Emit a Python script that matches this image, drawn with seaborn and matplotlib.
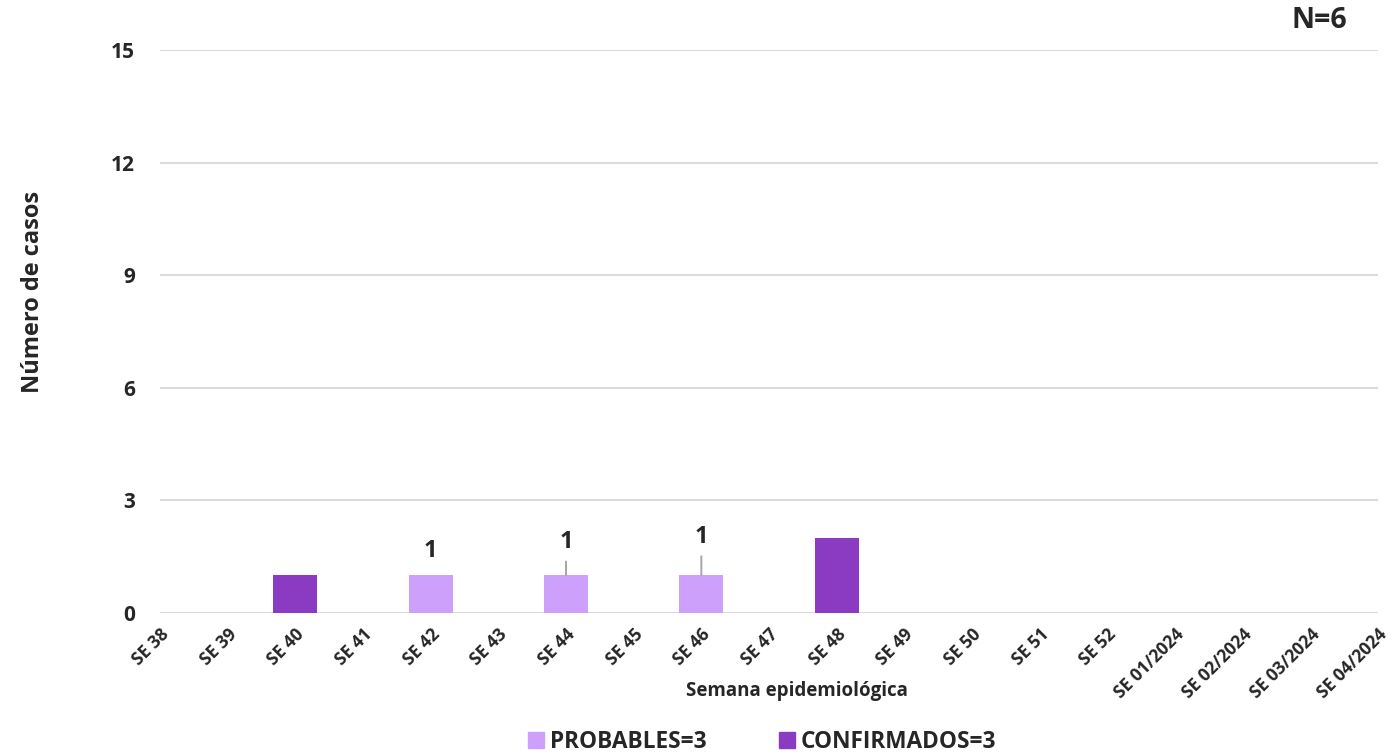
import matplotlib
matplotlib.use("Agg")
import matplotlib.pyplot as plt
import seaborn as sns
import pandas as pd
from matplotlib.patches import Patch

weeks = ["SE 38", "SE 39", "SE 40", "SE 41", "SE 42", "SE 43", "SE 44", "SE 45",
         "SE 46", "SE 47", "SE 48", "SE 49", "SE 50", "SE 51", "SE 52",
         "SE 01/2024", "SE 02/2024", "SE 03/2024", "SE 04/2024"]
probables = [0, 0, 0, 0, 1, 0, 1, 0, 1, 0, 0, 0, 0, 0, 0, 0, 0, 0, 0]
confirmados = [0, 0, 1, 0, 0, 0, 0, 0, 0, 0, 2, 0, 0, 0, 0, 0, 0, 0, 0]
yticks = [0, 3, 6, 9, 12, 15]
legend_labels = ["PROBABLES=3", "CONFIRMADOS=3"]
total_label = "N=6"

c_prob = "#CDA0FB"
c_conf = "#8B3BC1"

sns.set_theme(style="white")
plt.rcParams["font.family"] = ["Open Sans", "DejaVu Sans"]

df = pd.DataFrame({"week": weeks, "prob": probables, "conf": confirmados})

W, H = 1400, 753
L, R, T, B = 160, 1378, 50, 613
fig = plt.figure(figsize=(W / 100, H / 100), dpi=100)
ax = fig.add_axes([L / W, (H - B) / H, (R - L) / W, (B - T) / H])

sns.barplot(data=df, x="week", y="prob", color=c_prob, width=0.65, ax=ax,
            saturation=1, order=weeks, linewidth=0)
sns.barplot(data=df, x="week", y="conf", color=c_conf, width=0.65, ax=ax,
            saturation=1, order=weeks, bottom=df["prob"], linewidth=0)

ax.set_ylim(0, 15)
ax.set_xlim(0, len(weeks) - 1)
ax.set_yticks(yticks)
ax.set_yticklabels([str(t) for t in yticks], fontsize=15, fontweight="bold")
ax.tick_params(axis="y", length=0, pad=18)
ax.tick_params(axis="x", length=0, pad=9)
for lbl in ax.get_xticklabels():
    lbl.set_rotation(45)
    lbl.set_ha("right")
    lbl.set_rotation_mode("anchor")
    lbl.set_fontsize(12.5)
    lbl.set_fontweight("bold")

ax.grid(axis="y", color="#D9D9D9", lw=1.4)
ax.grid(axis="x", visible=False)
ax.set_axisbelow(True)
for s in ax.spines.values():
    s.set_visible(False)

ax.set_xlabel("Semana epidemiológica", fontsize=13.5, fontweight="bold")
ax.xaxis.label.set_va("center")
ax.xaxis.set_label_coords((797 - L) / (R - L), (B - 691) / (B - T))
ax.set_ylabel("Número de casos", fontsize=17, fontweight="bold")
ax.yaxis.label.set_va("center")
ax.yaxis.set_label_coords((33 - L) / (R - L), (B - 292) / (B - T))

# data labels for probables (Excel-style placement with leader lines)
label_heights = [1.49, 1.73, 1.87]
k = 0
for i, v in enumerate(probables):
    if v > 0:
        yh = label_heights[k] if k < len(label_heights) else v + 0.5
        leader = k > 0
        ax.annotate(str(v), xy=(i, v), xytext=(i, yh), textcoords="data",
                    ha="center", va="baseline", fontsize=17, fontweight="bold",
                    arrowprops=dict(arrowstyle="-", color="#A6A6A6", lw=1.4,
                                    shrinkA=3, shrinkB=0) if leader else None)
        k += 1

fig.text(1347 / W, 1 - 21 / H, total_label, fontsize=20.5, fontweight="bold",
         ha="right", va="center")

handles = [Patch(color=c_prob), Patch(color=c_conf)]
fig.legend(handles, legend_labels, loc="center", bbox_to_anchor=(762 / W, 1 - 742 / H),
           ncol=2, frameon=False, prop={"weight": "bold", "size": 16.3},
           handlelength=0.7, handleheight=0.7, handletextpad=0.25, columnspacing=3.2,
           borderaxespad=0, borderpad=0)

fig.savefig("out.png", dpi=100)
